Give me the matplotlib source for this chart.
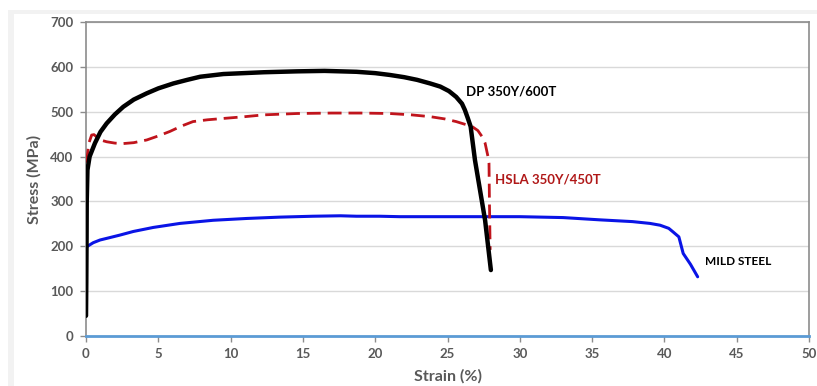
import matplotlib
matplotlib.use("Agg")
import matplotlib.pyplot as plt
from matplotlib.patches import Rectangle

# ---- data ----
dp_strain = [0, 0.02, 0.04, 0.05, 0.1, 0.25, 0.62, 1.0, 1.43, 2.0, 2.58, 3.3, 4.2, 5.0, 6.04, 7.0,
             7.9, 9.5, 12.3, 14.6, 16.5, 18.7, 20.0, 21.0, 22.0, 22.9, 23.8, 24.5, 25.1, 25.6,
             26.0, 26.2, 26.4, 26.6, 26.9, 27.25, 27.6, 28.0]
dp_stress = [45, 120, 220, 300, 370, 400, 430, 455, 474, 494, 511, 527, 541, 552, 563, 571,
             578, 584, 588, 590, 591, 589, 586, 582, 577, 571, 563, 556, 546, 533,
             518, 504, 486, 467, 392, 325, 258, 147]

hsla_strain = [0, 0.05, 0.2, 0.39, 0.55, 0.73, 1.0, 1.43, 2.0, 2.58, 3.3, 4.2, 5.0, 5.8, 6.6,
               7.4, 8.4, 9.5, 11.0, 12.3, 14.6, 17.0, 19.0, 21.0, 22.5, 23.8, 24.8, 25.6,
               26.2, 26.7, 27.1, 27.4, 27.6, 27.7, 27.8, 27.87, 27.9, 27.95]
hsla_stress = [340, 392, 430, 448, 449, 444, 437, 433, 430, 429, 431, 437, 446, 456, 468,
               478, 482, 485, 489, 493, 496, 497, 497, 496, 493, 489, 484, 478,
               472, 467, 458, 444, 430, 415, 400, 385, 300, 192]

mild_strain = [0, 0.05, 0.5, 0.97, 1.6, 2.35, 3.27, 4.65, 6.5, 8.8, 11.1, 13.4, 15.7, 17.6,
               18.7, 20.3, 21.7, 25, 30, 33, 35.5, 37.8, 39.0, 39.7, 40.3, 40.6, 41.0, 41.3,
               41.8, 42.3]
mild_stress = [192, 199, 208, 214, 219, 225, 233, 242, 251, 258, 262, 265, 267, 268,
               267, 267, 266, 266, 266, 264, 259, 255, 251, 247, 240, 232, 221, 184,
               160, 132]

x_ticks = [0, 5, 10, 15, 20, 25, 30, 35, 40, 45, 50]
y_ticks = [0, 100, 200, 300, 400, 500, 600, 700]

labels = ["DP 350Y/600T", "HSLA 350Y/450T", "MILD STEEL"]

# ---- figure ----
W, H = 817, 386
fig = plt.figure(figsize=(W / 100, H / 100), dpi=100)
fig.patch.set_facecolor("white")
fig.patches.append(Rectangle((8 / W, 0), 1, (H - 10) / H, transform=fig.transFigure,
                             facecolor="#f2f2f2", edgecolor="none", zorder=-10))
fig.patches.append(Rectangle((14 / W, 0), 1, (H - 14) / H, transform=fig.transFigure,
                             facecolor="white", edgecolor="none", zorder=-9))

ax = fig.add_axes([86 / W, (H - 336) / H, (809 - 86) / W, (336 - 22) / H])
ax.set_facecolor("white")

font = "Lato"
tick_color = "#595959"

ax.plot(mild_strain, mild_stress, color="#0a14e6", lw=2.2, solid_capstyle="round",
        solid_joinstyle="round", zorder=3)
ax.plot(hsla_strain, hsla_stress, color="#c0141c", lw=2.0, dashes=(5, 2.5), zorder=4)
ax.plot(dp_strain, dp_stress, color="black", lw=3.2, solid_capstyle="round",
        solid_joinstyle="round", zorder=5)

ax.set_xlim(0, 50)
ax.set_ylim(0, 700)
ax.set_xticks(x_ticks)
ax.set_yticks(y_ticks)
ax.grid(axis="y", color="#d9d9d9", lw=1)
ax.set_axisbelow(True)

for s in ["left", "top", "right"]:
    ax.spines[s].set_color("#8c8c8c")
    ax.spines[s].set_linewidth(1.2)
ax.spines["bottom"].set_color("#5b9bd5")
ax.spines["bottom"].set_linewidth(2)

ax.tick_params(axis="both", direction="out", length=4, width=1, color="#8c8c8c",
               labelcolor=tick_color, labelsize=9.5, pad=5)
for lab in ax.get_xticklabels() + ax.get_yticklabels():
    lab.set_fontfamily(font)
    lab.set_fontweight("bold")

ax.set_xlabel("Strain (%)", fontsize=11.5, fontweight="bold", color=tick_color,
              family=font, labelpad=6)
ax.set_ylabel("Stress (MPa)", fontsize=11.5, fontweight="bold", color=tick_color,
              family=font, labelpad=6)

ax.text(26.3, 544, labels[0], fontsize=9.5, fontweight="bold", color="black",
        family=font, va="center", ha="left")
ax.text(28.3, 348, labels[1], fontsize=9.5, fontweight="bold", color="#b01818",
        family=font, va="center", ha="left")
ax.text(42.8, 165, labels[2], fontsize=8.5, fontweight="bold", color="black",
        family=font, va="center", ha="left")

fig.savefig("out.png", dpi=100)
